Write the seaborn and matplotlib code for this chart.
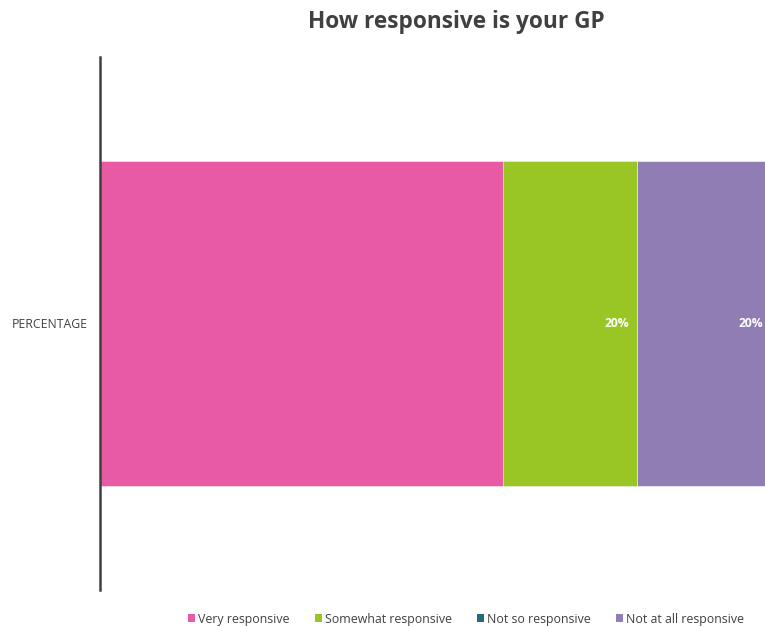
import matplotlib
matplotlib.use("Agg")
import matplotlib.pyplot as plt
from matplotlib.patches import Patch
import numpy as np
import pandas as pd
import seaborn as sns

category = ["PERCENTAGE"]
series = ["Very responsive", "Somewhat responsive", "Not so responsive", "Not at all responsive"]
values = [0.60, 0.20, 0.00, 0.20]
labels = ["", "20%", "", "20%"]
colors = ["#E95AA5", "#99C624", "#236C80", "#8F7DB3"]

sns.set_theme(style="white")
plt.rcParams["font.family"] = ["Open Sans", "DejaVu Sans"]

fig = plt.figure(figsize=(7.65, 6.27), dpi=100)
ax = fig.add_axes([100 / 765, 1 - 590 / 627, 671.7 / 765, 533 / 627])

cum = np.cumsum(values)
df = pd.DataFrame({"series": series, "value": values, "cum": cum, "category": category * len(series)})

# draw cumulative bars from largest to smallest so they stack visually
for i in reversed(range(len(series))):
    sub = df.iloc[[i]]
    sns.barplot(data=sub, x="cum", y="category", color=colors[i], orient="h",
                width=0.608, ax=ax, saturation=1, edgecolor="white", linewidth=0.4)

for i in range(len(series)):
    if labels[i]:
        ax.text(cum[i] - 0.012, 0, labels[i], ha="right", va="center",
                color="white", fontsize=8.7, fontweight="bold")

ax.set_xlim(0, 1)
ax.set_ylim(0.5, -0.5)
ax.set_xlabel("")
ax.set_ylabel("")
ax.set_xticks([])
for s in ["top", "right", "bottom"]:
    ax.spines[s].set_visible(False)
ax.spines["left"].set_color("#404040")
ax.spines["left"].set_linewidth(1.8)
ax.tick_params(axis="y", length=0, pad=9, labelsize=8.8, labelcolor="#404040")

fig.text(0.596, 1 - 22 / 627, "How responsive is your GP", ha="center", va="center",
         fontsize=16.3, fontweight="bold", color="#404040")

handles = [Patch(facecolor=c, edgecolor="none") for c in colors]
fig.legend(handles, series, loc="center", bbox_to_anchor=(466 / 765, 1 - 619 / 627),
           ncol=4, frameon=False, fontsize=8.9, handlelength=0.6, handleheight=0.6,
           handletextpad=0.25, columnspacing=2.0, labelcolor="#404040")

fig.savefig("out.png", dpi=100)
